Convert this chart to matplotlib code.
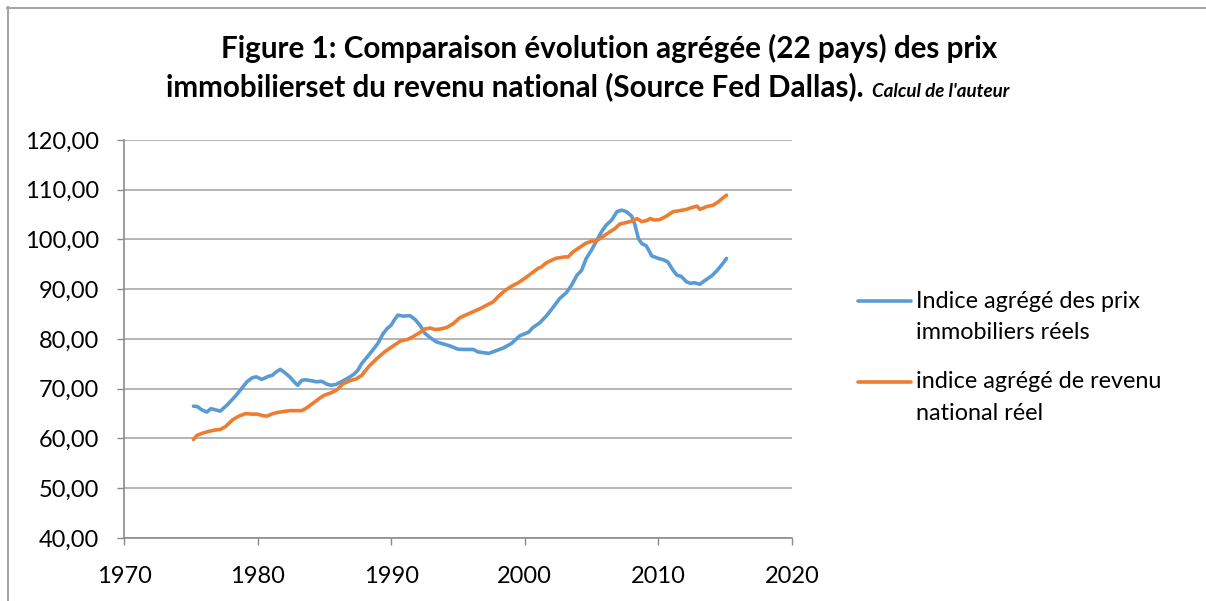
import matplotlib
matplotlib.use("Agg")
import matplotlib.pyplot as plt
from matplotlib.lines import Line2D
from matplotlib.ticker import FuncFormatter

# ---- data ----
price_years = [1975.2, 1975.5, 1975.8, 1976.2, 1976.5, 1976.8, 1977.2, 1977.7, 1978.3, 1978.7,
               1979.2, 1979.6, 1979.9, 1980.3, 1980.5, 1980.8, 1981.1, 1981.4, 1981.7, 1982.05,
               1982.4, 1982.8, 1983.0, 1983.3, 1983.6, 1984.05, 1984.4, 1984.8, 1985.2, 1985.5,
               1985.9, 1986.4, 1986.8, 1987.2, 1987.5, 1987.8, 1988.3, 1988.8, 1989.0, 1989.4,
               1989.7, 1990.0, 1990.3, 1990.5, 1990.9, 1991.4, 1991.8, 1992.2, 1992.5, 1993.0,
               1993.4, 1993.9, 1994.4, 1995.0, 1995.5, 1996.15, 1996.5, 1997.3, 1997.8, 1998.4,
               1999.0, 1999.6, 2000.3, 2000.6, 2001.1, 2001.6, 2002.1, 2002.6, 2003.1, 2003.5,
               2003.9, 2004.25, 2004.6, 2005.0, 2005.4, 2005.75, 2006.1, 2006.5, 2006.9, 2007.25,
               2007.6, 2008.0, 2008.25, 2008.5, 2008.75, 2009.1, 2009.5, 2010.0, 2010.4, 2010.7,
               2011.1, 2011.4, 2011.7, 2012.1, 2012.4, 2012.7, 2013.1, 2013.5, 2014.0, 2014.4,
               2014.8, 2015.1]
price_index = [66.5, 66.4, 65.8, 65.3, 66.0, 65.8, 65.5, 66.7, 68.4, 69.7,
               71.4, 72.2, 72.4, 71.9, 72.1, 72.5, 72.7, 73.4, 73.9, 73.2,
               72.4, 71.2, 70.7, 71.7, 71.8, 71.6, 71.4, 71.5, 70.9, 70.7,
               70.9, 71.6, 72.2, 72.9, 73.7, 75.1, 76.7, 78.4, 79.1, 81.1,
               82.1, 82.8, 84.1, 84.8, 84.6, 84.7, 83.9, 82.6, 81.2, 80.1,
               79.4, 79.0, 78.6, 77.95, 77.9, 77.9, 77.4, 77.1, 77.6, 78.2,
               79.1, 80.6, 81.4, 82.3, 83.2, 84.6, 86.3, 88.1, 89.3, 90.8,
               92.8, 93.8, 96.2, 97.9, 99.9, 101.6, 102.9, 103.9, 105.6, 105.9,
               105.6, 104.7, 102.9, 100.2, 99.2, 98.7, 96.7, 96.2, 95.9, 95.5,
               93.8, 92.8, 92.6, 91.5, 91.2, 91.3, 91.0, 91.8, 92.7, 93.8,
               95.1, 96.2]

income_years = [1975.2, 1975.45, 1975.8, 1976.3, 1976.8, 1977.2, 1977.6, 1978.1, 1978.6, 1979.1,
                1979.6, 1980.0, 1980.35, 1980.7, 1981.05, 1981.4, 1981.9, 1982.4, 1983.3, 1983.7,
                1984.2, 1984.7, 1985.0, 1985.5, 1985.9, 1986.4, 1986.9, 1987.4, 1987.8, 1988.3,
                1988.9, 1989.5, 1990.2, 1990.7, 1991.2, 1991.6, 1992.2, 1992.5, 1992.9, 1993.3,
                1993.65, 1994.15, 1994.65, 1995.15, 1995.65, 1996.15, 1996.65, 1997.15, 1997.65, 1998.0,
                1998.5, 1999.0, 1999.5, 2000.0, 2000.5, 2001.0, 2001.25, 2001.6, 2002.3, 2003.0,
                2003.25, 2003.6, 2004.1, 2004.6, 2005.1, 2005.35, 2005.9, 2006.4, 2006.75, 2007.1,
                2007.6, 2008.0, 2008.4, 2008.75, 2009.1, 2009.4, 2009.7, 2010.1, 2010.6, 2011.1,
                2011.6, 2012.1, 2012.6, 2012.9, 2013.1, 2013.6, 2014.1, 2014.5, 2014.8, 2015.1]
income_index = [59.8, 60.6, 61.0, 61.4, 61.7, 61.8, 62.4, 63.7, 64.5, 65.0,
                64.9, 64.9, 64.6, 64.5, 64.9, 65.2, 65.4, 65.6, 65.6, 66.2,
                67.2, 68.2, 68.7, 69.2, 69.7, 71.0, 71.6, 72.0, 72.7, 74.4,
                76.0, 77.4, 78.7, 79.6, 79.9, 80.4, 81.4, 82.0, 82.2, 81.9,
                82.0, 82.3, 83.1, 84.3, 84.9, 85.5, 86.1, 86.8, 87.5, 88.5,
                89.7, 90.6, 91.3, 92.2, 93.2, 94.2, 94.5, 95.3, 96.2, 96.5,
                96.5, 97.5, 98.4, 99.3, 99.7, 99.7, 100.7, 101.6, 102.2, 103.1,
                103.4, 103.7, 104.2, 103.6, 103.8, 104.2, 103.9, 104.0, 104.7, 105.6,
                105.8, 106.05, 106.5, 106.7, 106.05, 106.6, 106.9, 107.6, 108.3, 108.9]

x_ticks = [1970, 1980, 1990, 2000, 2010, 2020]
y_ticks = [40, 50, 60, 70, 80, 90, 100, 110, 120]

title_line1 = "Figure 1: Comparaison évolution agrégée (22 pays) des prix"
title_line2 = "immobilierset du revenu national (Source Fed Dallas)."
title_note = "Calcul de l'auteur"
label_price = ["Indice agrégé des prix", "immobiliers réels"]
label_income = ["indice agrégé de revenu", "national réel"]

# ---- style ----
BLUE = "#5B9BD5"
ORANGE = "#ED7D31"
GRID = "#A0A0A0"
AXIS = "#8C8C8C"
FONT = "Lato"

W, H = 1206, 601
fig = plt.figure(figsize=(W / 100, H / 100), dpi=100)
fig.patch.set_facecolor("white")

def fx(px):
    return px / W

def fy(py):
    return 1 - py / H

ax = fig.add_axes([fx(124), fy(538), fx(792) - fx(124), fy(140) - fy(538)])
ax.plot(price_years, price_index, color=BLUE, lw=2.6, solid_capstyle="round", solid_joinstyle="round", zorder=3)
ax.plot(income_years, income_index, color=ORANGE, lw=2.6, solid_capstyle="round", solid_joinstyle="round", zorder=3)

ax.set_xlim(1970, 2020)
ax.set_ylim(40, 120)
ax.set_xticks(x_ticks)
ax.set_yticks(y_ticks)
ax.yaxis.set_major_formatter(FuncFormatter(lambda v, p: f"{v:.2f}".replace(".", ",")))
ax.xaxis.set_major_formatter(FuncFormatter(lambda v, p: f"{int(v)}"))

ax.grid(axis="y", color=GRID, lw=1.1, zorder=0)
ax.set_axisbelow(True)
for s in ["top", "right"]:
    ax.spines[s].set_visible(False)
for s in ["left", "bottom"]:
    ax.spines[s].set_color(AXIS)
    ax.spines[s].set_linewidth(1.2)

ax.tick_params(axis="y", direction="out", length=5, width=1, color=AXIS, pad=13,
               labelsize=17, labelcolor="black")
ax.tick_params(axis="x", direction="out", length=5, width=1, color=AXIS, pad=15,
               labelsize=17, labelcolor="black")
for lab in ax.get_xticklabels() + ax.get_yticklabels():
    lab.set_fontfamily(FONT)

# ---- title ----
TSIZE = 21.3
fig.text(fx(609), fy(48), title_line1, ha="center", va="center", fontsize=TSIZE,
         fontweight="bold", family=FONT)
t2 = fig.text(fx(166), fy(87), title_line2, ha="left", va="center", fontsize=TSIZE,
              fontweight="bold", family=FONT)
ann = plt.annotate(title_note, xy=(1, 0), xycoords=t2, xytext=(6, 1), textcoords="offset points",
                   ha="left", va="bottom", fontsize=13.5, fontweight="bold", style="italic",
                   family=FONT, annotation_clip=False)

# ---- legend (drawn manually to mimic the layout) ----
for color, lines, y0 in [(BLUE, label_price, 301), (ORANGE, label_income, 382)]:
    fig.add_artist(Line2D([fx(858), fx(911)], [fy(y0), fy(y0)], color=color, lw=2.6,
                          solid_capstyle="round"))
    for i, txt in enumerate(lines):
        fig.text(fx(916), fy(y0 + 31.5 * i), txt, ha="left", va="center", fontsize=16.8,
                 family=FONT)

# ---- outer border (top and left visible) ----
fig.add_artist(Line2D([fx(7), fx(W)], [fy(7.5), fy(7.5)], color="#A6A6A6", lw=1.5))
fig.add_artist(Line2D([fx(7.5), fx(7.5)], [fy(7), fy(H)], color="#A6A6A6", lw=1.5))

fig.savefig("out.png", dpi=100, facecolor="white")
